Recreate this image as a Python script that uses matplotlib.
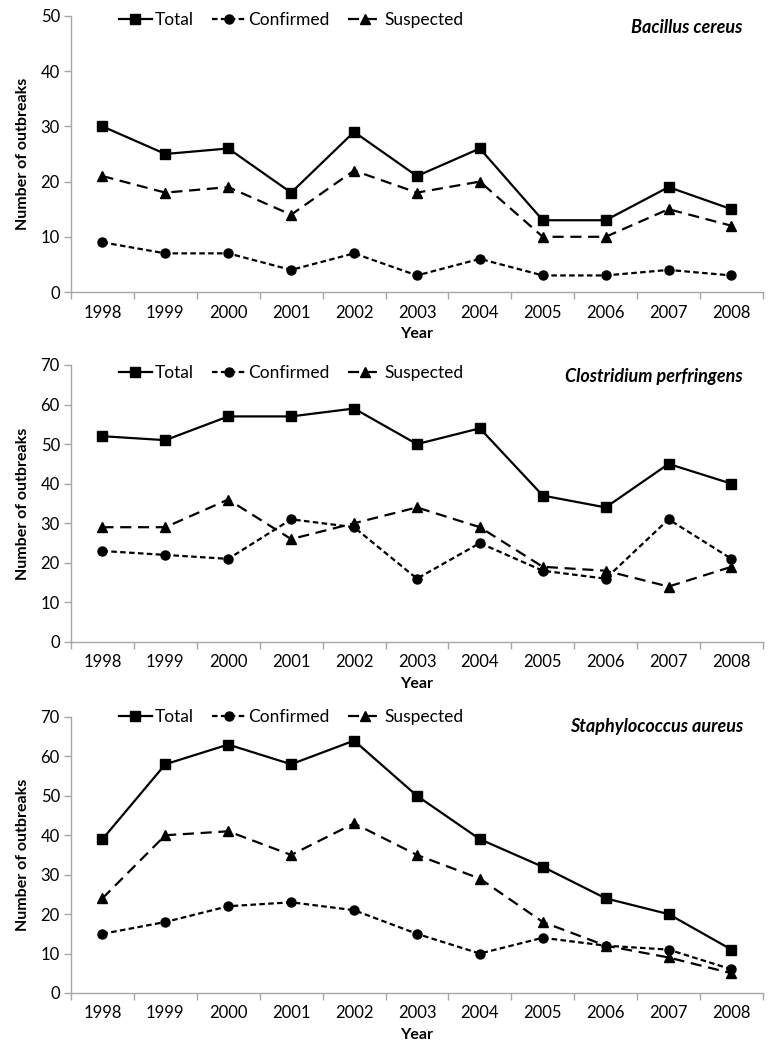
import matplotlib
matplotlib.use("Agg")
from matplotlib import pyplot as plt

plt.rcParams['font.family'] = ['Lato', 'DejaVu Sans']

years = ['1998', '1999', '2000', '2001', '2002', '2003', '2004', '2005', '2006', '2007', '2008']

# Bacillus cereus
bc_total = [30, 25, 26, 18, 29, 21, 26, 13, 13, 19, 15]
bc_confirmed = [9, 7, 7, 4, 7, 3, 6, 3, 3, 4, 3]
bc_suspected = [21, 18, 19, 14, 22, 18, 20, 10, 10, 15, 12]

# Clostridium perfringens
cp_total = [52, 51, 57, 57, 59, 50, 54, 37, 34, 45, 40]
cp_confirmed = [23, 22, 21, 31, 29, 16, 25, 18, 16, 31, 21]
cp_suspected = [29, 29, 36, 26, 30, 34, 29, 19, 18, 14, 19]

# Staphylococcus aureus
sa_total = [39, 58, 63, 58, 64, 50, 39, 32, 24, 20, 11]
sa_confirmed = [15, 18, 22, 23, 21, 15, 10, 14, 12, 11, 6]
sa_suspected = [24, 40, 41, 35, 43, 35, 29, 18, 12, 9, 5]

panels = [
    ("Bacillus cereus", bc_total, bc_confirmed, bc_suspected, 50),
    ("Clostridium perfringens", cp_total, cp_confirmed, cp_suspected, 70),
    ("Staphylococcus aureus", sa_total, sa_confirmed, sa_suspected, 70),
]
# axes boxes in figure fraction (left, bottom, width, height)
boxes = [
    [0.0917, 0.7219, 0.894, 0.2629],
    [0.0917, 0.3886, 0.894, 0.2638],
    [0.0917, 0.0543, 0.894, 0.2629],
]
legend_y = [0.985, 0.971, 1.0]
title_y = [0.957, 0.96, 0.967]

grey = '#a6a6a6'
fs = 12
fig = plt.figure(figsize=(7.74, 10.5), dpi=100)

for (name, tot, conf, susp, ymax), box, ly, ty in zip(panels, boxes, legend_y, title_y):
    ax = fig.add_axes(box)
    x = list(range(len(years)))
    ax.plot(x, tot, color='black', lw=1.6, ls='-', marker='s', ms=7, label='Total')
    ax.plot(x, conf, color='black', lw=1.6, ls=(0, (2.5, 1.5)), marker='o', ms=6.5, label='Confirmed')
    ax.plot(x, susp, color='black', lw=1.6, ls=(0, (5, 3)), marker='^', ms=7, label='Suspected')

    ax.set_xlim(-0.5, len(years) - 0.5)
    ax.set_ylim(0, ymax)
    ax.set_yticks(range(0, ymax + 1, 10))
    ax.set_xticks([i - 0.5 for i in range(len(years) + 1)], minor=False)
    ax.set_xticklabels([])
    ax.set_xticks(x, minor=True)
    ax.set_xticklabels(years, minor=True)
    ax.tick_params(axis='x', which='major', length=5, width=1, color=grey, direction='out')
    ax.tick_params(axis='x', which='minor', length=0, pad=9, labelsize=fs)
    ax.tick_params(axis='y', length=5, width=1, color=grey, labelsize=fs, pad=3)

    for s in ['top', 'right']:
        ax.spines[s].set_visible(False)
    for s in ['left', 'bottom']:
        ax.spines[s].set_color(grey)
        ax.spines[s].set_linewidth(1)

    ax.set_ylabel('Number of outbreaks', fontsize=11.5, fontweight='bold', labelpad=8)
    ax.set_xlabel('Year', fontsize=11.5, fontweight='bold', labelpad=5)

    ax.text(0.971, ty, name, transform=ax.transAxes, ha='right', va='center',
            fontsize=13, fontweight='bold', style='italic')

    ax.legend(loc='center left', bbox_to_anchor=(0.059, ly), ncol=3, frameon=False,
              fontsize=12.5, handlelength=1.9, handletextpad=0.15, columnspacing=1.1,
              borderaxespad=0)

fig.savefig('out.png', dpi=100)
